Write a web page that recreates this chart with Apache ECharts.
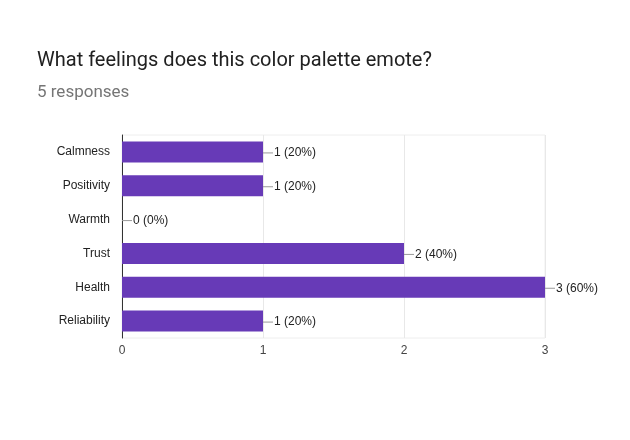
<!DOCTYPE html>
<html><head><meta charset="utf-8">
<script src="https://cdn.jsdelivr.net/npm/echarts@6/dist/echarts.min.js"></script>
<style>html,body{margin:0;padding:0;background:#fff}#c{width:630px;height:440px}</style>
</head><body><div id="c"></div>
<script>
const categories = ['Calmness','Positivity','Warmth','Trust','Health','Reliability'];
const counts = [1,1,0,2,3,1];
const percents = ['20%','20%','0%','40%','60%','20%'];
const xTicks = [0,1,2,3];

const chart = echarts.init(document.getElementById('c'));
chart.setOption({
  animation:false,
  title:[
    {text:'What feelings does this color palette emote?',left:37,top:51,padding:0,textStyle:{fontFamily:'Roboto, Arial',fontSize:20,fontWeight:'normal',color:'#212121'}},
    {text:'5 responses',left:37,top:84,padding:0,textStyle:{fontFamily:'Roboto, Arial',fontSize:17,fontWeight:'normal',color:'#757575'}}
  ],
  grid:{left:122,right:85,top:135,height:203,show:true,borderColor:'#eeeeee',borderWidth:1},
  xAxis:{type:'value',min:0,max:xTicks[xTicks.length-1],interval:1,
    axisLine:{show:false},axisTick:{show:false},
    splitLine:{lineStyle:{color:'#e8e8e8'}},
    axisLabel:{color:'#444',fontSize:12,fontFamily:'Arial',margin:7}},
  yAxis:{type:'category',inverse:true,data:categories,
    axisLine:{show:true,lineStyle:{color:'#333',width:1}},axisTick:{show:false},
    axisLabel:{color:'#222',fontSize:12,fontFamily:'Arial',margin:12}},
  series:[{type:'bar',data:counts,barCategoryGap:'38%',
    itemStyle:{color:'#673ab7'},
    label:{show:true,position:'right',distance:0,offset:[0,1],
      formatter:p=>'{l|}{t|'+counts[p.dataIndex]+' ('+percents[p.dataIndex]+')}',
      rich:{l:{width:10,height:1,backgroundColor:'#999'},
        t:{color:'#222',fontSize:12,fontFamily:'Arial',padding:[0,0,0,1]}}}
  }]
});
</script></body></html>
